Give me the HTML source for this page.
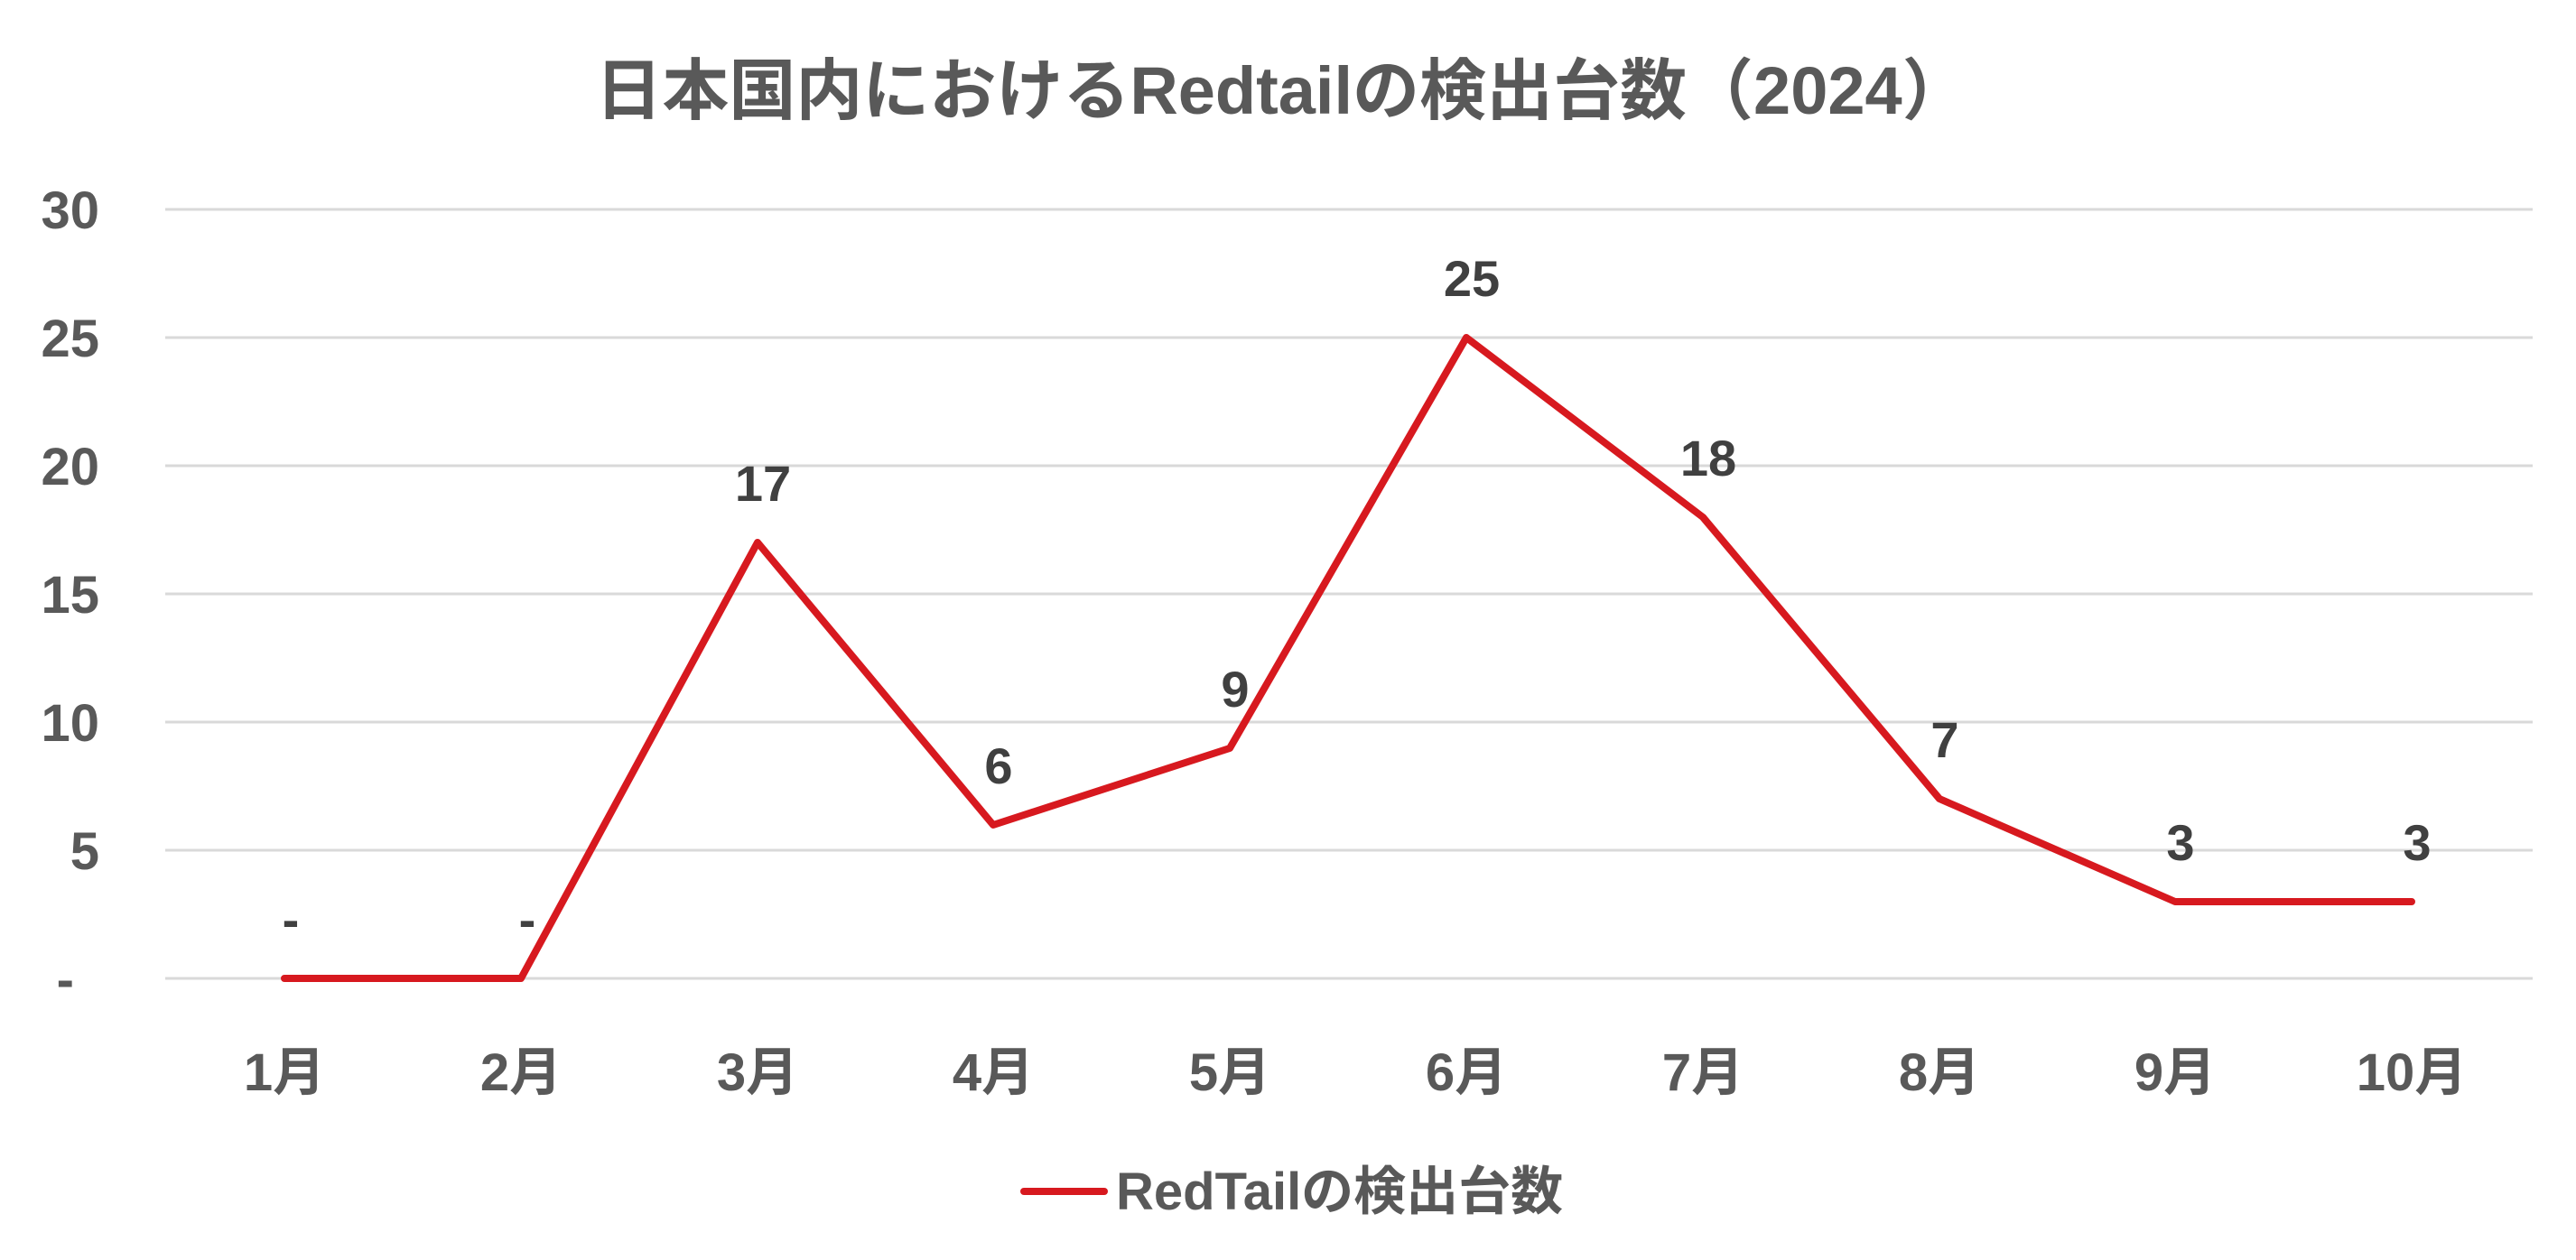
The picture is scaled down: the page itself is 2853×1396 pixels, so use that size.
<!DOCTYPE html>
<html><head><meta charset="utf-8"><style>
html,body{margin:0;padding:0;background:#fff;}
svg{display:block;}
text{font-family:"Liberation Sans","Noto Sans CJK JP",sans-serif;font-weight:bold;}
</style></head><body>
<svg width="2853" height="1396" viewBox="0 0 2853 1396" xmlns="http://www.w3.org/2000/svg">
<text x="1420" y="126" font-size="74" fill="#595959" text-anchor="middle">日本国内におけるRedtailの検出台数（2024）</text>
<g stroke="#d9d9d9" stroke-width="3">
<line x1="183" y1="232" x2="2805" y2="232"/>
<line x1="183" y1="374" x2="2805" y2="374"/>
<line x1="183" y1="516" x2="2805" y2="516"/>
<line x1="183" y1="658" x2="2805" y2="658"/>
<line x1="183" y1="800" x2="2805" y2="800"/>
<line x1="183" y1="942" x2="2805" y2="942"/>
<line x1="183" y1="1084" x2="2805" y2="1084"/>
</g>
<g font-size="58" fill="#595959" text-anchor="end">
<text x="110" y="253">30</text>
<text x="110" y="395">25</text>
<text x="110" y="537">20</text>
<text x="110" y="679">15</text>
<text x="110" y="821">10</text>
<text x="110" y="963">5</text>
<text x="82" y="1105">-</text>
</g>
<g font-size="58" fill="#595959" text-anchor="middle">
<text x="315" y="1208">1月</text>
<text x="577" y="1208">2月</text>
<text x="839" y="1208">3月</text>
<text x="1100" y="1208">4月</text>
<text x="1362" y="1208">5月</text>
<text x="1624" y="1208">6月</text>
<text x="1886" y="1208">7月</text>
<text x="2148" y="1208">8月</text>
<text x="2409" y="1208">9月</text>
<text x="2671" y="1208">10月</text>
</g>
<polyline fill="none" stroke="#d7191f" stroke-width="8" stroke-linejoin="round" stroke-linecap="round"
points="315,1084 577,1084 839,601 1100,914 1362,829 1624,374 1886,573 2148,885 2409,999 2671,999"/>
<g font-size="56" fill="#404040" text-anchor="middle">
<text x="322" y="1038">-</text>
<text x="584" y="1038">-</text>
<text x="845" y="555">17</text>
<text x="1106" y="868">6</text>
<text x="1368" y="783">9</text>
<text x="1630" y="328">25</text>
<text x="1892" y="527">18</text>
<text x="2154" y="839">7</text>
<text x="2415" y="953">3</text>
<text x="2677" y="953">3</text>
</g>
<line x1="1134" y1="1320" x2="1223" y2="1320" stroke="#d7191f" stroke-width="8" stroke-linecap="round"/>
<text x="1236" y="1340" font-size="58" fill="#595959">RedTailの検出台数</text>
</svg>
</body></html>
